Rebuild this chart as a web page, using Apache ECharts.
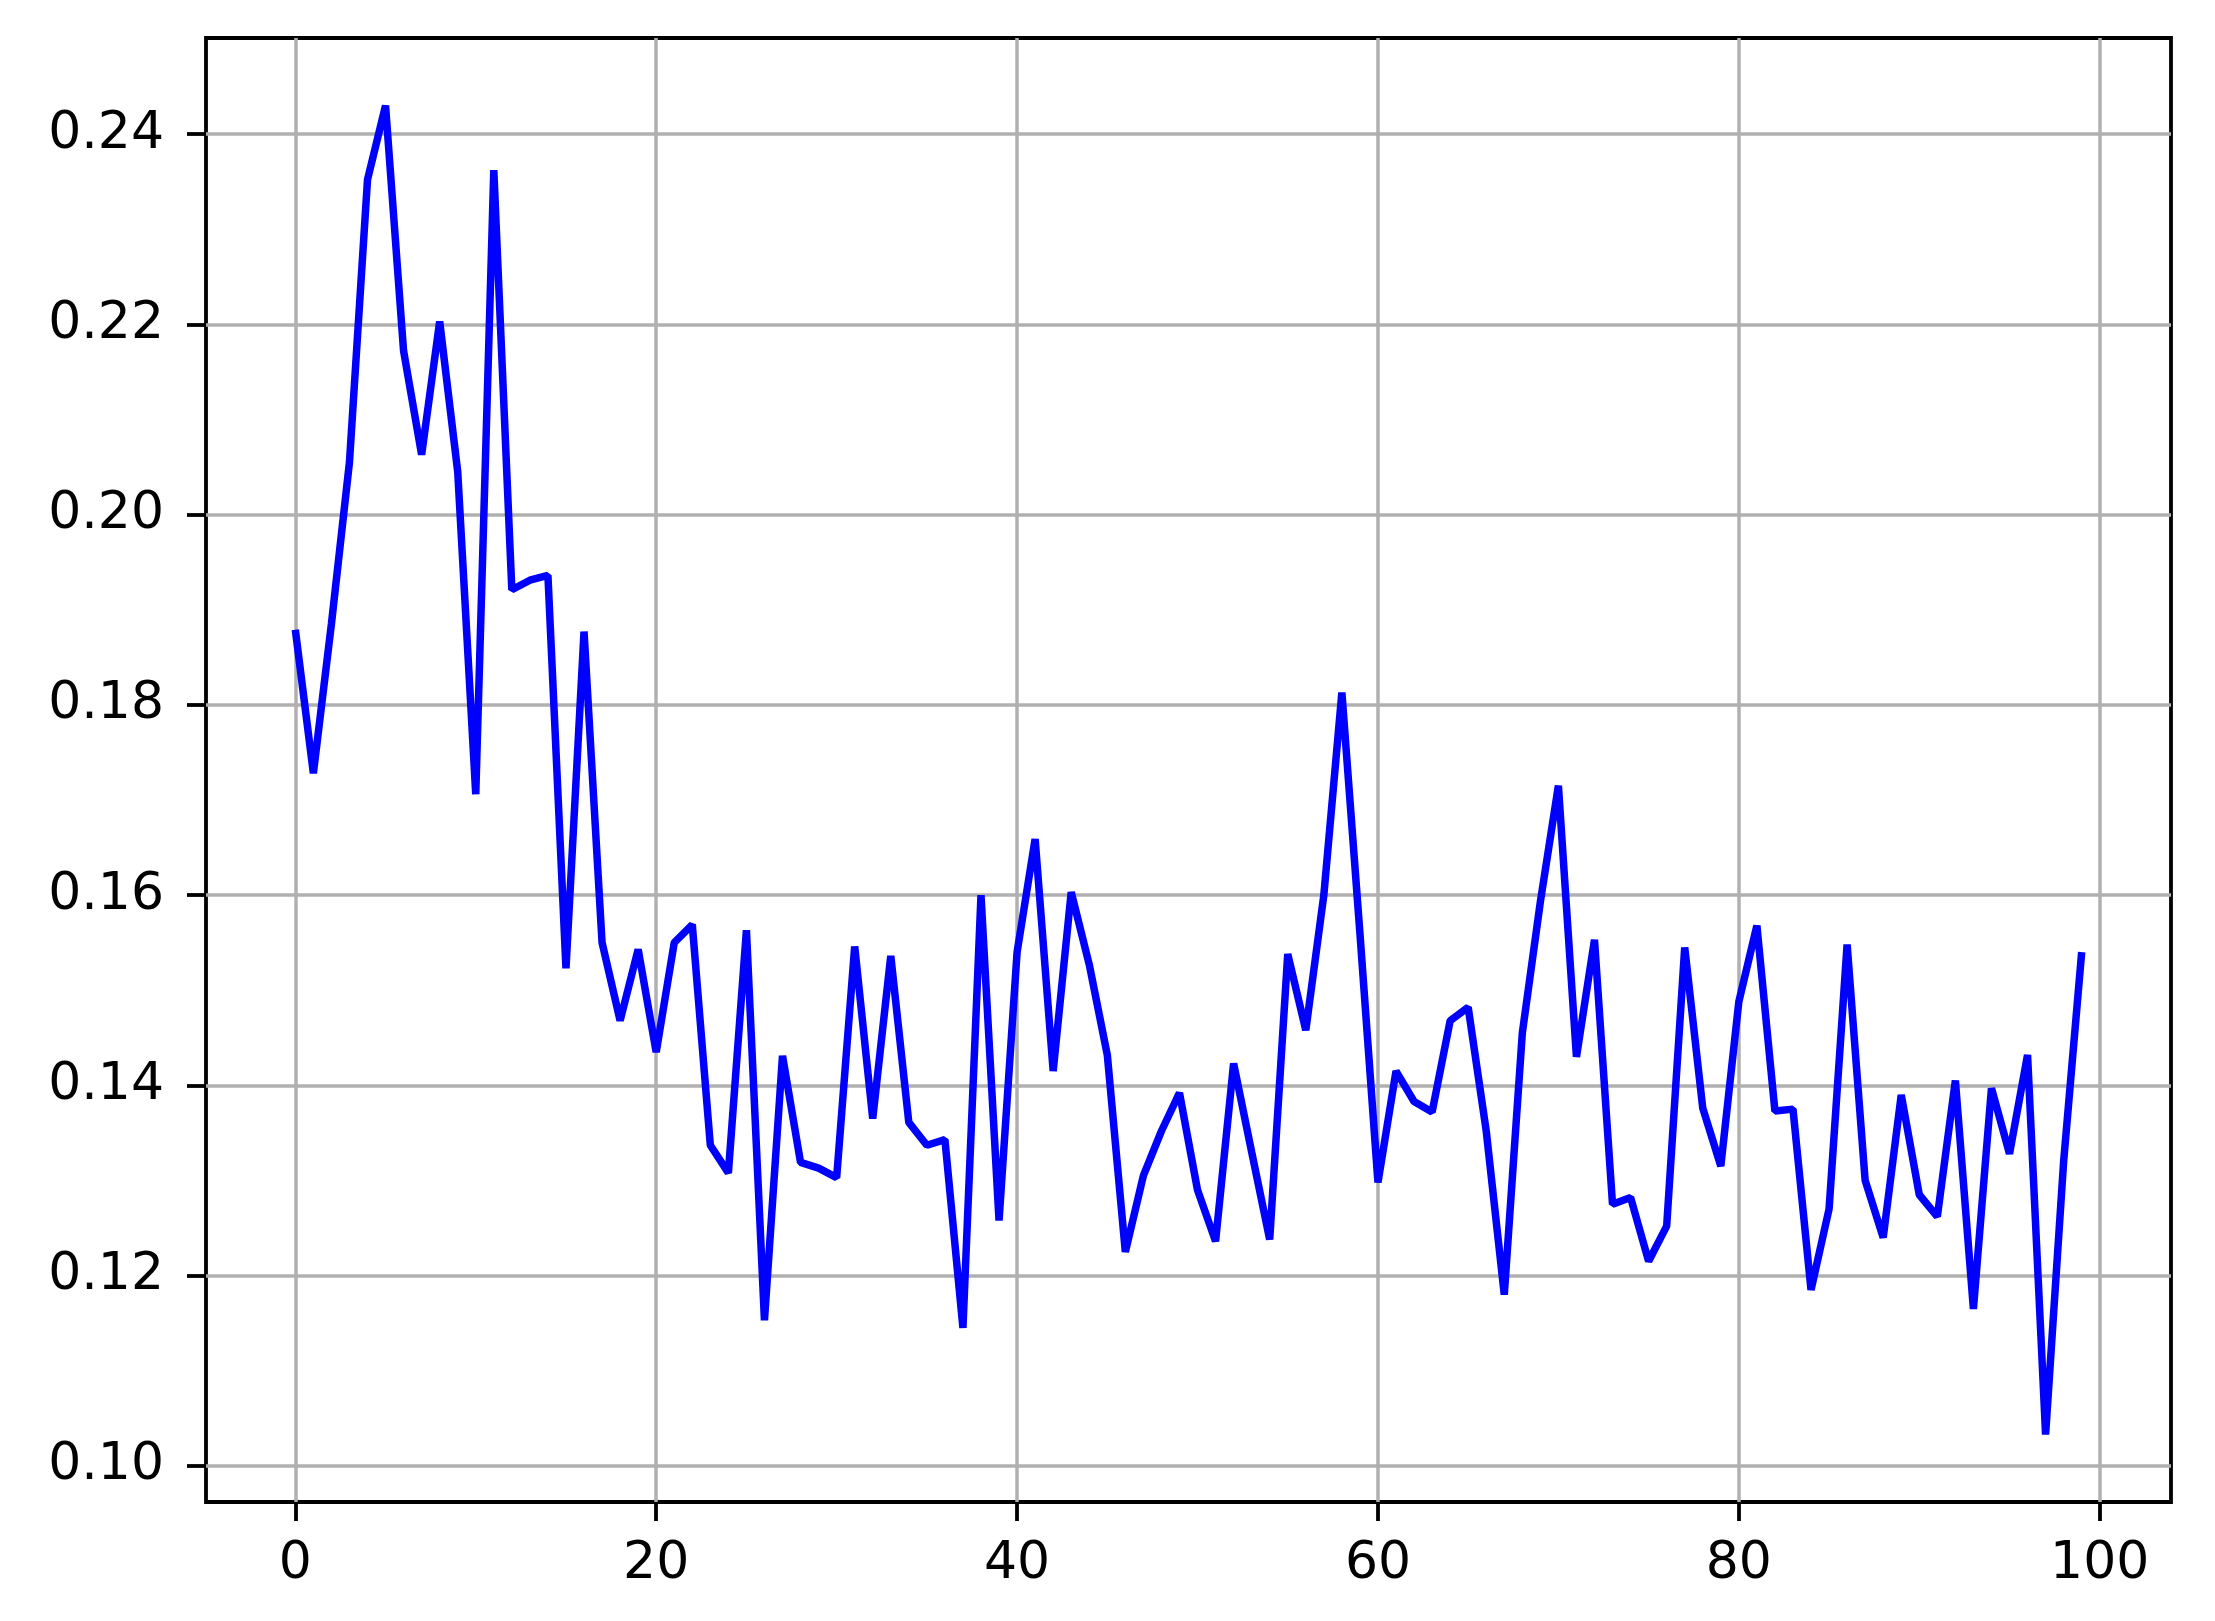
<!DOCTYPE html>
<html>
<head>
<meta charset="utf-8">
<script src="https://cdn.jsdelivr.net/npm/echarts@6/dist/echarts.min.js"></script>
<style>
  html, body { margin: 0; padding: 0; background: #fff; }
  #chart { width: 2215px; height: 1621px; }
</style>
</head>
<body>
<div id="chart"></div>
<script>
// values, one per step 0..99
const lossValues = [
  0.1879, 0.1728, 0.1885, 0.2055, 0.2352, 0.2430, 0.2172, 0.2063, 0.2203, 0.2045,
  0.1706, 0.2362, 0.1921, 0.1931, 0.1936, 0.1523, 0.1877, 0.1550, 0.1468, 0.1543,
  0.1435, 0.1550, 0.1569, 0.1337, 0.1308, 0.1563, 0.1153, 0.1431, 0.1319, 0.1313,
  0.1303, 0.1546, 0.1365, 0.1536, 0.1361, 0.1337, 0.1343, 0.1145, 0.1600, 0.1258,
  0.1540, 0.1659, 0.1415, 0.1603, 0.1527, 0.1432, 0.1225, 0.1305, 0.1352, 0.1392,
  0.1290, 0.1236, 0.1423, 0.1330, 0.1238, 0.1538, 0.1458, 0.1600, 0.1813, 0.1560,
  0.1298, 0.1415, 0.1383, 0.1372, 0.1468, 0.1482, 0.1352, 0.1180, 0.1455, 0.1593,
  0.1715, 0.1430, 0.1553, 0.1275, 0.1282, 0.1215, 0.1252, 0.1545, 0.1376, 0.1315,
  0.1488, 0.1568, 0.1373, 0.1375, 0.1185, 0.1270, 0.1548, 0.1300, 0.1240, 0.1390,
  0.1285, 0.1262, 0.1405, 0.1165, 0.1397, 0.1328, 0.1432, 0.1033, 0.1320, 0.1540
];
const xTicks = [0, 20, 40, 60, 80, 100];
const yTicks = [0.10, 0.12, 0.14, 0.16, 0.18, 0.20, 0.22, 0.24];

window.addEventListener('load', function () {
    let myChart = echarts.init(document.querySelector('#chart'));

    const points = lossValues.map(function (v, i) { return [i, v]; });
    const font = { color: '#000', fontSize: 52, fontFamily: 'DejaVu Sans' };

    let option = {
        animation: false,
        backgroundColor: '#fff',
        grid: {
            left: 206, top: 38, width: 1965, height: 1464,
            show: true,
            borderColor: '#000',
            borderWidth: 3.8,
            backgroundColor: 'transparent'
        },
        xAxis: {
            type: 'value',
            min: -4.95,
            max: 103.95,
            axisLine: { show: false, onZero: false },
            axisTick: {
                show: true, length: 19, inside: false,
                customValues: xTicks,
                lineStyle: { color: '#000', width: 3.8 }
            },
            axisLabel: Object.assign({ margin: 36, customValues: xTicks }, font),
            splitLine: { show: true, lineStyle: { color: '#b0b0b0', width: 3.5 } }
        },
        yAxis: {
            type: 'value',
            min: 0.0962,
            max: 0.2501,
            axisLine: { show: false, onZero: false },
            axisTick: {
                show: true, length: 19, inside: false,
                customValues: yTicks,
                lineStyle: { color: '#000', width: 3.8 }
            },
            axisLabel: Object.assign({
                margin: 42,
                customValues: yTicks,
                formatter: function (v) { return v.toFixed(2); }
            }, font),
            splitLine: { show: true, lineStyle: { color: '#b0b0b0', width: 3.5 } }
        },
        series: [{
            type: 'line',
            data: points,
            showSymbol: false,
            lineStyle: { color: '#0000ff', width: 7.5 },
            z: 3
        }]
    };

    myChart.setOption(option);
});
</script>
</body>
</html>
